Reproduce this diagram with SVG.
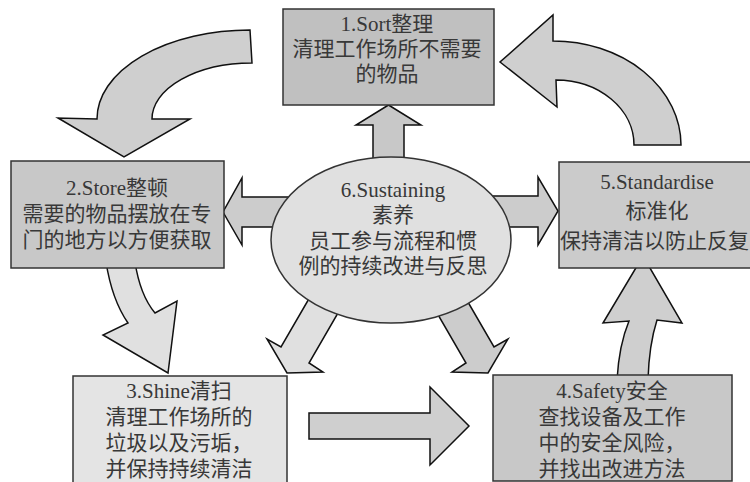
<svg xmlns="http://www.w3.org/2000/svg" width="750" height="482" viewBox="0 0 750 482">
<style>
.box{stroke:#333;stroke-width:1.5}
.arr{stroke:#111;stroke-width:1.5;stroke-linejoin:miter}
.t{font-family:"Liberation Serif","Noto Sans CJK SC",serif;font-size:21px;fill:#383838;text-anchor:middle}
</style>
<rect width="750" height="482" fill="#fff"/>
<g id="connectors">
<path class="arr" fill="#cfcfcf" d="M250,30 A153,89 0 0 0 97,119 L58,118 L124,157 L190,119 L152,119 A100,56 0 0 1 252,63 Z"/>
<path class="arr" fill="#cfcfcf" d="M553,41 A128,104 0 0 1 681,145 L634,145 A78,65 0 0 0 556,80 L557,107 L500,62 L553,15 Z"/>
<path class="arr" fill="#e0e0e0" d="M106,262 Q112,300 128,323 L103,335 L168,373 L177,301 L155,313 Q140,295 135,262 Z"/>
<path class="arr" fill="#cfcfcf" d="M617,380 Q619,345 629,321 L603,323 L643,256 L682,323 L657,320 Q649,345 648,380 Z"/>
<path class="arr" fill="#c8c8c8" d="M373,170 L373,125 L356,125 L388.5,105 L421,125 L404,125 L404,170 Z"/>
<path class="arr" fill="#cccccc" d="M300,197 L242,197 L242,178 L223,212 L242,245 L242,227 L300,227 Z"/>
<path class="arr" fill="#cccccc" d="M480,196 L538,196 L538,177 L558,211 L538,245 L538,227 L480,227 Z"/>
<path class="arr" fill="#e0e0e0" d="M321,278 L281,347 L267,339 L287,373 L323,372 L309,363 L349,294 Z"/>
<path class="arr" fill="#cccccc" d="M454,278 L494,347 L508,339 L488,373 L452,372 L466,363 L426,294 Z"/>
<path class="arr" fill="#cfcfcf" d="M309,413 L430,413 L430,387 L469,426 L430,465 L430,439 L309,439 Z"/>
</g>
<g id="n1">
<rect class="box" x="283" y="9" width="211" height="96" fill="#c0c0c0"/>
<text class="t" x="387" y="31">1.Sort整理</text>
<text class="t" x="387" y="56">清理工作场所不需要</text>
<text class="t" x="387" y="81">的物品</text>
</g>
<g id="n2">
<rect class="box" x="11" y="161" width="213" height="107" fill="#c8c8c8"/>
<text class="t" x="117" y="195">2.Store整顿</text>
<text class="t" x="117" y="221">需要的物品摆放在专</text>
<text class="t" x="117" y="247">门的地方以方便获取</text>
</g>
<g id="n3">
<rect class="box" x="73" y="376" width="214" height="112" fill="#e4e4e4"/>
<text class="t" x="179" y="398">3.Shine清扫</text>
<text class="t" x="179" y="424">清理工作场所的</text>
<text class="t" x="179" y="450">垃圾以及污垢，</text>
<text class="t" x="179" y="476">并保持持续清洁</text>
</g>
<g id="n4">
<rect class="box" x="493" y="375" width="239" height="106" fill="#c8c8c8"/>
<text class="t" x="612" y="398">4.Safety安全</text>
<text class="t" x="612" y="424">查找设备及工作</text>
<text class="t" x="612" y="450">中的安全风险，</text>
<text class="t" x="612" y="476">并找出改进方法</text>
</g>
<g id="n5">
<rect class="box" x="559" y="162" width="200" height="106" fill="#cbcbcb"/>
<text class="t" x="657" y="189">5.Standardise</text>
<text class="t" x="657" y="218">标准化</text>
<text class="t" x="654.5" y="248">保持清洁以防止反复</text>
</g>
<g id="n6">
<ellipse class="box" cx="391" cy="240" rx="120" ry="83" fill="#e0e0e0"/>
<text class="t" x="393" y="197">6.Sustaining</text>
<text class="t" x="393" y="222">素养</text>
<text class="t" x="393" y="248">员工参与流程和惯</text>
<text class="t" x="393" y="273">例的持续改进与反思</text>
</g>
</svg>
